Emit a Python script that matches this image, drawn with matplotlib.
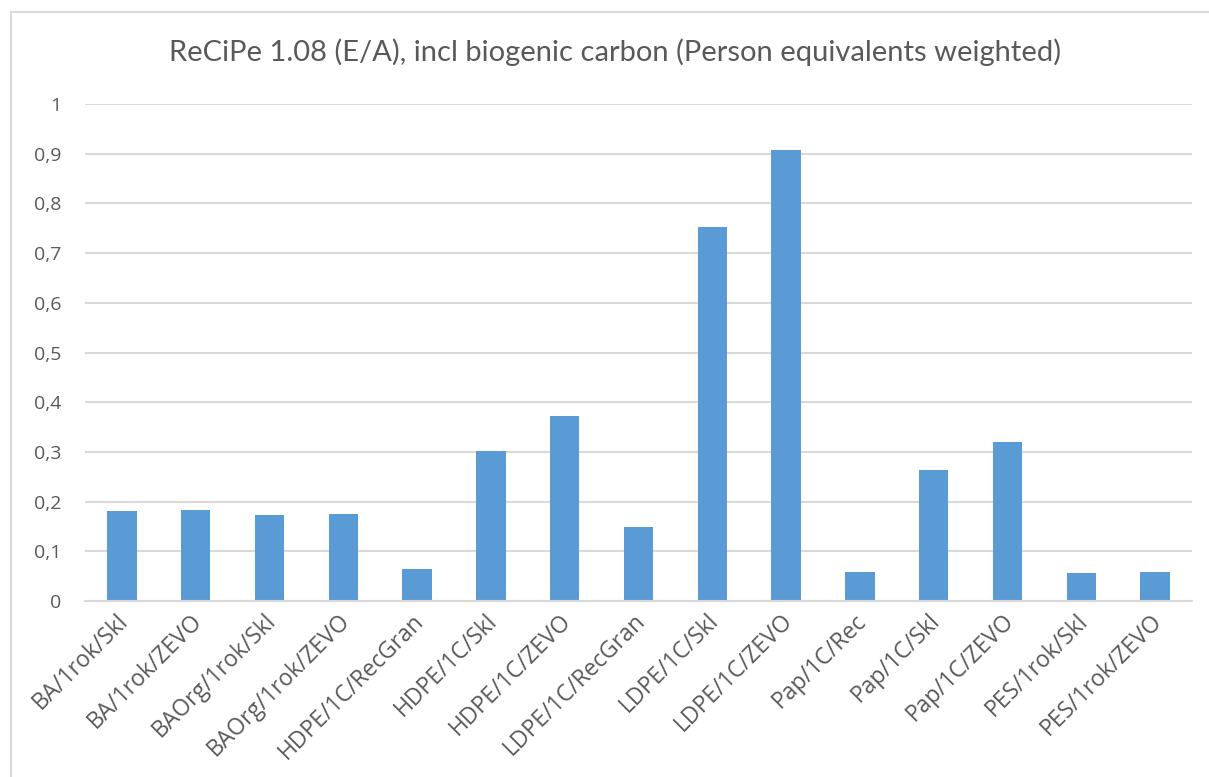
import matplotlib
matplotlib.use("Agg")
import matplotlib.pyplot as plt
from matplotlib.lines import Line2D
import matplotlib.transforms as mtransforms

categories = [
    "BA/1rok/Skl", "BA/1rok/ZEVO", "BAOrg/1rok/Skl", "BAOrg/1rok/ZEVO",
    "HDPE/1C/RecGran", "HDPE/1C/Skl", "HDPE/1C/ZEVO", "LDPE/1C/RecGran",
    "LDPE/1C/Skl", "LDPE/1C/ZEVO", "Pap/1C/Rec", "Pap/1C/Skl",
    "Pap/1C/ZEVO", "PES/1rok/Skl", "PES/1rok/ZEVO",
]
values = [
    0.181, 0.184, 0.173, 0.176, 0.065, 0.301, 0.373, 0.148,
    0.752, 0.908, 0.058, 0.264, 0.319, 0.056, 0.058,
]
y_ticks = [0, 0.1, 0.2, 0.3, 0.4, 0.5, 0.6, 0.7, 0.8, 0.9, 1.0]
y_tick_labels = ["0", "0,1", "0,2", "0,3", "0,4", "0,5", "0,6", "0,7", "0,8", "0,9", "1"]
title = "ReCiPe 1.08 (E/A), incl biogenic carbon (Person equivalents weighted)"

BAR = "#5B9BD5"
GRID = "#D9D9D9"
TEXT = "#595959"

W, H = 1209, 777
fig = plt.figure(figsize=(W / 100, H / 100), dpi=100)
fig.patch.set_facecolor("white")

# chart frame (left and top edges visible)
fig.add_artist(Line2D([11 / W, 11 / W], [0, 1 - 12 / H], transform=fig.transFigure,
                      color=GRID, lw=1.5))
fig.add_artist(Line2D([11 / W, 1], [1 - 12 / H, 1 - 12 / H], transform=fig.transFigure,
                      color=GRID, lw=1.5))

ax = fig.add_axes([85 / W, 1 - 601 / H, (1192 - 85) / W, (601 - 104) / H])
x = list(range(len(categories)))
ax.bar(x, values, width=0.4, color=BAR, zorder=3)
ax.set_xlim(-0.5, len(categories) - 0.5)
ax.set_ylim(0, 1)

ax.set_yticks(y_ticks)
ax.set_yticklabels(y_tick_labels, fontsize=14, color=TEXT, family="Open Sans")
ax.tick_params(axis="y", length=0, pad=17)
ax.yaxis.grid(True, color=GRID, lw=1.5, zorder=0)
for s in ["top", "right", "left"]:
    ax.spines[s].set_visible(False)
ax.spines["bottom"].set_color(GRID)
ax.spines["bottom"].set_linewidth(1.5)
ax.spines["bottom"].set_zorder(4)

ax.set_xticks(x)
ax.set_xticklabels(categories, rotation=45, ha="right", va="center",
                   rotation_mode="anchor", fontsize=16.5, color=TEXT, family="Open Sans")
ax.tick_params(axis="x", length=0, pad=12)
offset = mtransforms.ScaledTranslation(3 / 100, 0, fig.dpi_scale_trans)
for lbl in ax.get_xticklabels():
    lbl.set_transform(lbl.get_transform() + offset)

fig.text(615 / W, 1 - 52 / H, title, ha="center", va="center",
         fontsize=21, color=TEXT, family="Lato")

fig.savefig("out.png", dpi=100)
